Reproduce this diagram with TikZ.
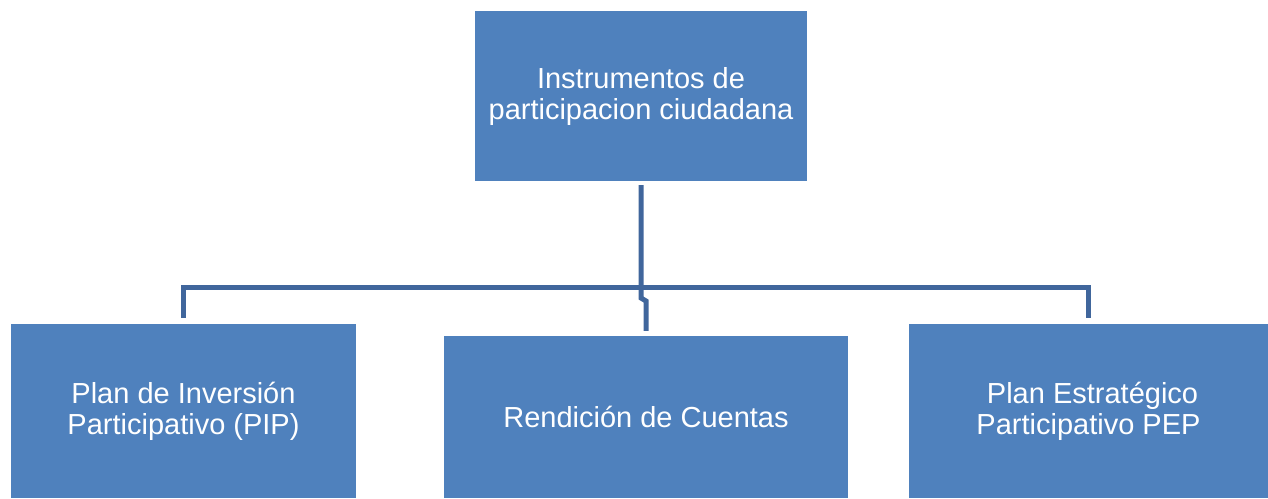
\documentclass[tikz,border=0pt]{standalone}
\usepackage{xcolor}
\usepackage{tikz}
\usepackage{fontspec}
\setmainfont{Liberation Sans}
\usetikzlibrary{positioning}

\definecolor{boxblue}{RGB}{79,129,189}
\definecolor{lineblue}{RGB}{64,102,156}

\begin{document}
\begin{tikzpicture}[
    x=1pt,y=-1pt,
    box/.style={rectangle,fill=boxblue,text=white,align=center,inner sep=0pt,
        font=\fontsize{29}{31}\selectfont},
    link/.style={draw=lineblue,line width=5pt}
]
    \useasboundingbox (0,0) rectangle (1268,498);
    \node[box,minimum width=332pt,minimum height=170pt] (instr) at (641,96) {Instrumentos de\\participacion ciudadana};
    \node[box,minimum width=345pt,minimum height=174pt] (pip) at (183.5,411) {Plan de Inversión\\Participativo (PIP)};
    \node[box,minimum width=404pt,minimum height=162pt] (rend) at (646,417) {Rendición de Cuentas};
    \node[box,minimum width=359pt,minimum height=174pt] (pep) at (1088.5,411) {\ Plan Estratégico\\Participativo PEP};

    \coordinate (bus) at (641,287);
    \coordinate (jog) at (641,298);

    \draw[link,shorten <=4pt] (instr.south) -- (jog) -- ([yshift=-3pt]rend.north |- jog) -- ([yshift=5pt]rend.north);
    \draw[link] ([yshift=6pt]pip.north) -- (pip.north |- bus) -- (pep.north |- bus) -- ([yshift=6pt]pep.north);
\end{tikzpicture}
\end{document}
